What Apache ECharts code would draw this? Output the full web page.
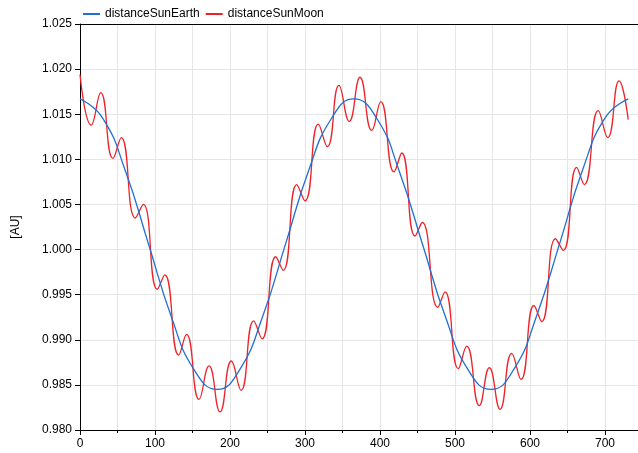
<!DOCTYPE html>
<html>
<head>
<meta charset="utf-8">
<script src="https://cdn.jsdelivr.net/npm/echarts@6/dist/echarts.min.js"></script>
<style>
html,body{margin:0;padding:0;background:#fff;}
#c{width:638px;height:453px;}
</style>
</head>
<body>
<div id="c"></div>
<script>
var xTicks = [0, 100, 200, 300, 400, 500, 600, 700];
var yTicks = [0.980, 0.985, 0.990, 0.995, 1.000, 1.005, 1.010, 1.015, 1.020, 1.025];

var earthT = [0, 30, 61, 91, 122, 152, 183, 213, 244, 274, 305, 335, 365, 396, 426, 457, 487, 518, 548, 579, 609, 640, 670, 701, 731];
var earthV = [1.0167, 1.0146, 1.0086, 1.0007, 0.9925, 0.9867, 0.9845, 0.9867, 0.9927, 1.0006, 1.0088, 1.0145, 1.0167, 1.0145, 1.0086, 1.0005, 0.9926, 0.9866, 0.9845, 0.9868, 0.9927, 1.0008, 1.0088, 1.0147, 1.0167];

var moonT = [0, 15, 27.6, 44, 55, 73.8, 84.4, 103, 113, 131.6, 142, 158.7, 172, 186.7, 201.8, 214.7, 231.6, 242.7, 261, 271, 289, 300, 317.8, 329.8, 345.3, 359, 373.3, 389, 401, 418.7, 429, 446.7, 456.4, 477, 486.7, 504.4, 515.6, 532.4, 545.8, 560, 575.6, 588, 605.3, 615.6, 634, 644.4, 662.2, 672.4, 691, 703.6, 718.7, 731];
var moonV = [1.0194, 1.0138, 1.0174, 1.0101, 1.0124, 1.0035, 1.0050, 0.9956, 0.9972, 0.9883, 0.9906, 0.9834, 0.9871, 0.9820, 0.98765, 0.9844, 0.9921, 0.9901, 0.9992, 0.9977, 1.0072, 1.0054, 1.0139, 1.0114, 1.0182, 1.0142, 1.0191, 1.0132, 1.0164, 1.0086, 1.0107, 1.0015, 1.0030, 0.9936, 0.9953, 0.9868, 0.9893, 0.9827, 0.9869, 0.9823, 0.9885, 0.9856, 0.9938, 0.9920, 1.0012, 0.9999, 1.0091, 1.0072, 1.0154, 1.0124, 1.0187, 1.0144];

function pairs(t, v) { return t.map(function (x, i) { return [x, v[i]]; }); }

var FONT = 'Liberation Sans';
var chart = echarts.init(document.getElementById('c'), null, {renderer: 'canvas'});
chart.setOption({
  animation: false,
  backgroundColor: '#fff',
  textStyle: {fontFamily: FONT},
  legend: {
    left: 78, top: 3,
    itemWidth: 17, itemHeight: 2, itemGap: 6,
    icon: 'rect',
    textStyle: {fontFamily: FONT, fontSize: 12, color: '#000'},
    data: ['distanceSunEarth', 'distanceSunMoon']
  },
  grid: {left: 80, right: 0, top: 24, bottom: 23, containLabel: false, outerBoundsMode: 'none'},
  xAxis: [{
    type: 'value', min: 0, max: 744, interval: 100,
    axisLine: {show: true, onZero: false, lineStyle: {color: '#000', width: 1}},
    axisTick: {show: true, length: 5, lineStyle: {color: '#000'}},
    minorTick: {show: true, splitNumber: 2, length: 3, lineStyle: {color: '#000'}},
    axisLabel: {
      color: '#000', fontSize: 12, margin: 8, fontFamily: FONT, showMaxLabel: false,
      formatter: function (v) { return xTicks.indexOf(v) >= 0 ? String(v) : ''; }
    },
    splitLine: {show: true, lineStyle: {color: '#e6e6e6', width: 1}},
    minorSplitLine: {show: true, lineStyle: {color: '#e6e6e6', width: 1}}
  }, {
    type: 'value', min: 0, max: 744, position: 'top', gridIndex: 0,
    axisLine: {show: true, onZero: false, lineStyle: {color: '#000', width: 1}},
    axisTick: {show: false}, axisLabel: {show: false}, splitLine: {show: false}
  }],
  yAxis: {
    type: 'value', min: 0.980, max: 1.025, interval: 0.005,
    name: '[AU]', nameLocation: 'middle', nameGap: 58, nameRotate: 90,
    nameTextStyle: {color: '#000', fontSize: 12, fontFamily: FONT},
    axisLine: {show: true, onZero: false, lineStyle: {color: '#000', width: 1}},
    axisTick: {show: true, length: 5, lineStyle: {color: '#000'}},
    axisLabel: {
      color: '#000', fontSize: 12, margin: 8, fontFamily: FONT,
      formatter: function (v) {
        var best = yTicks.reduce(function (a, b) { return Math.abs(b - v) < Math.abs(a - v) ? b : a; });
        return best.toFixed(3);
      }
    },
    splitLine: {show: true, lineStyle: {color: '#e6e6e6', width: 1}}
  },
  series: [{
    name: 'distanceSunEarth', type: 'line', xAxisIndex: 0,
    data: pairs(earthT, earthV), smooth: 0.5, showSymbol: false,
    color: '#1f6fd6', lineStyle: {color: '#1f6fd6', width: 1.3}, z: 3
  }, {
    name: 'distanceSunMoon', type: 'line', xAxisIndex: 0,
    data: pairs(moonT, moonV), smooth: 0.5, showSymbol: false,
    color: '#ee2229', lineStyle: {color: '#ee2229', width: 1.3}, z: 2
  }]
});
</script>
</body>
</html>
